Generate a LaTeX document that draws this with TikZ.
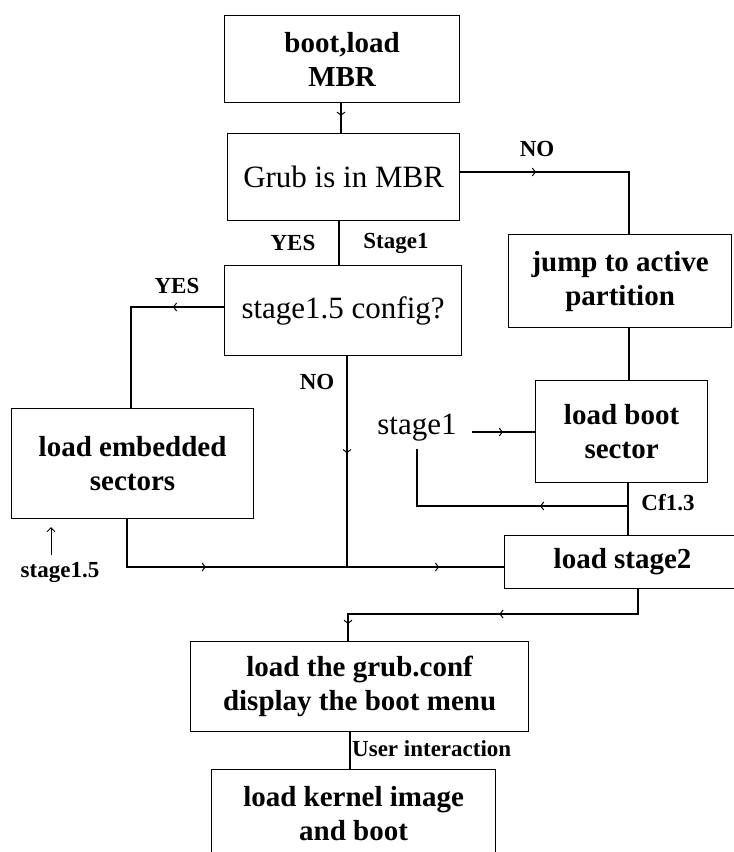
\documentclass[tikz,border=0pt]{standalone}
\usepackage{fontspec}
\setmainfont{Liberation Serif}
\usetikzlibrary{arrows.meta,decorations.markings}
\begin{document}
\begin{tikzpicture}[x=1pt,y=-1pt,
  box/.style={draw, line width=1.2pt, inner sep=0pt, anchor=north west, align=center},
  bt/.style={font=\fontsize{29}{34}\selectfont\bfseries},
  rt/.style={font=\fontsize{31}{34}\selectfont},
  lbl/.style={font=\fontsize{23}{26}\selectfont\bfseries, inner sep=0pt},
  conn/.style={line width=1.2pt},
  ma/.style={postaction={decorate, decoration={markings, mark=at position #1 with {\arrow[line width=1pt]{Straight Barb[length=3pt,width=8pt]}}}}},
]
\useasboundingbox[fill=white] (0,0) rectangle (734,852);

% boxes
\node[box, bt, minimum width=235pt, minimum height=87pt] (b1) at (224,15) {boot,load\\MBR};
\node[box, rt, minimum width=232pt, minimum height=87pt] (grub) at (227,133) {Grub is in MBR};
\node[box, rt, minimum width=237pt, minimum height=90pt] (cfg) at (224,265) {stage1.5 config?};
\node[box, bt, minimum width=223pt, minimum height=93pt] (jump) at (508,234) {jump to active\\partition};
\node[box, bt, minimum width=172pt, minimum height=102pt] (boot) at (535,380) {load boot\\sector};
\node[box, bt, minimum width=242pt, minimum height=110pt] (embed) at (11,408) {load embedded\\sectors};
\node[box, bt, minimum width=236pt, minimum height=53pt] (stage2) at (504,535) {load stage2};
\node[box, bt, minimum width=338pt, minimum height=90pt] (conf) at (190,641) {load the grub.conf\\display the boot menu};
\node[box, bt, minimum width=284pt, minimum height=88pt] (kernel) at (211,769) {load kernel image\\and boot};

% labels
\node[lbl] (noA) at (537,149) {NO};
\node[lbl] (yesA) at (293,243) {YES};
\node[lbl] (st1A) at (396,243) {Stage1};
\node[lbl] (yesB) at (177,286) {YES};
\node[lbl] (noB) at (317,382) {NO};
\node[rt, inner sep=0pt] (st1B) at (417,428) {stage1};
\node[lbl] (cf) at (668,503) {Cf1.3};
\node[lbl] (st15) at (60,572) {stage1.5};
\node[lbl, anchor=west] (ui) at (352,749) {User interaction};

% helper coordinates
\coordinate (s1out) at (472,432);
\coordinate (cfj) at (628,506);
\coordinate (s1in) at (417,449);
\coordinate (jn) at (347,567);
\coordinate (st15top) at (51,527);
\coordinate (st15bot) at (51,555);

% connectors
\draw[conn, ma=0.42] (b1.south -| 341,0) -- (grub.north -| 341,0);
\draw[conn, ma=0.328] (grub.east |- 0,172) -- (629,172) -- (jump.north -| 629,0);
\draw[conn] (grub.south -| 339,0) -- (cfg.north -| 339,0);
\draw[conn, ma=0.263] (cfg.west |- 0,307) -| (embed.north -| 131,0);
\draw[conn] (jump.south -| 629,0) -- (boot.north -| 629,0);
\draw[conn, ma=0.49] (s1out) -- (boot.west |- s1out);
\draw[conn] (boot.south -| 628,0) -- (stage2.north -| 628,0);
\draw[conn, ma=0.328] (cfj) -| (s1in);
\draw[conn, ma=0.298, ma=0.847] (embed.south -| 127,0) |- (stage2.west |- jn);
\draw[conn, ma=0.46] (cfg.south -| 347,0) -- (jn);
\draw[conn, ma=0.478, ma=0.95] (stage2.south -| 638,0) -- (638,614) -- (348,614) -- (conf.north -| 348,0);
\draw[conn] (conf.south -| 350,0) -- (kernel.north -| 350,0);
\draw[line width=1pt, -{Straight Barb[length=4pt,width=8pt]}] (st15bot) -- (st15top);

\end{tikzpicture}
\end{document}
